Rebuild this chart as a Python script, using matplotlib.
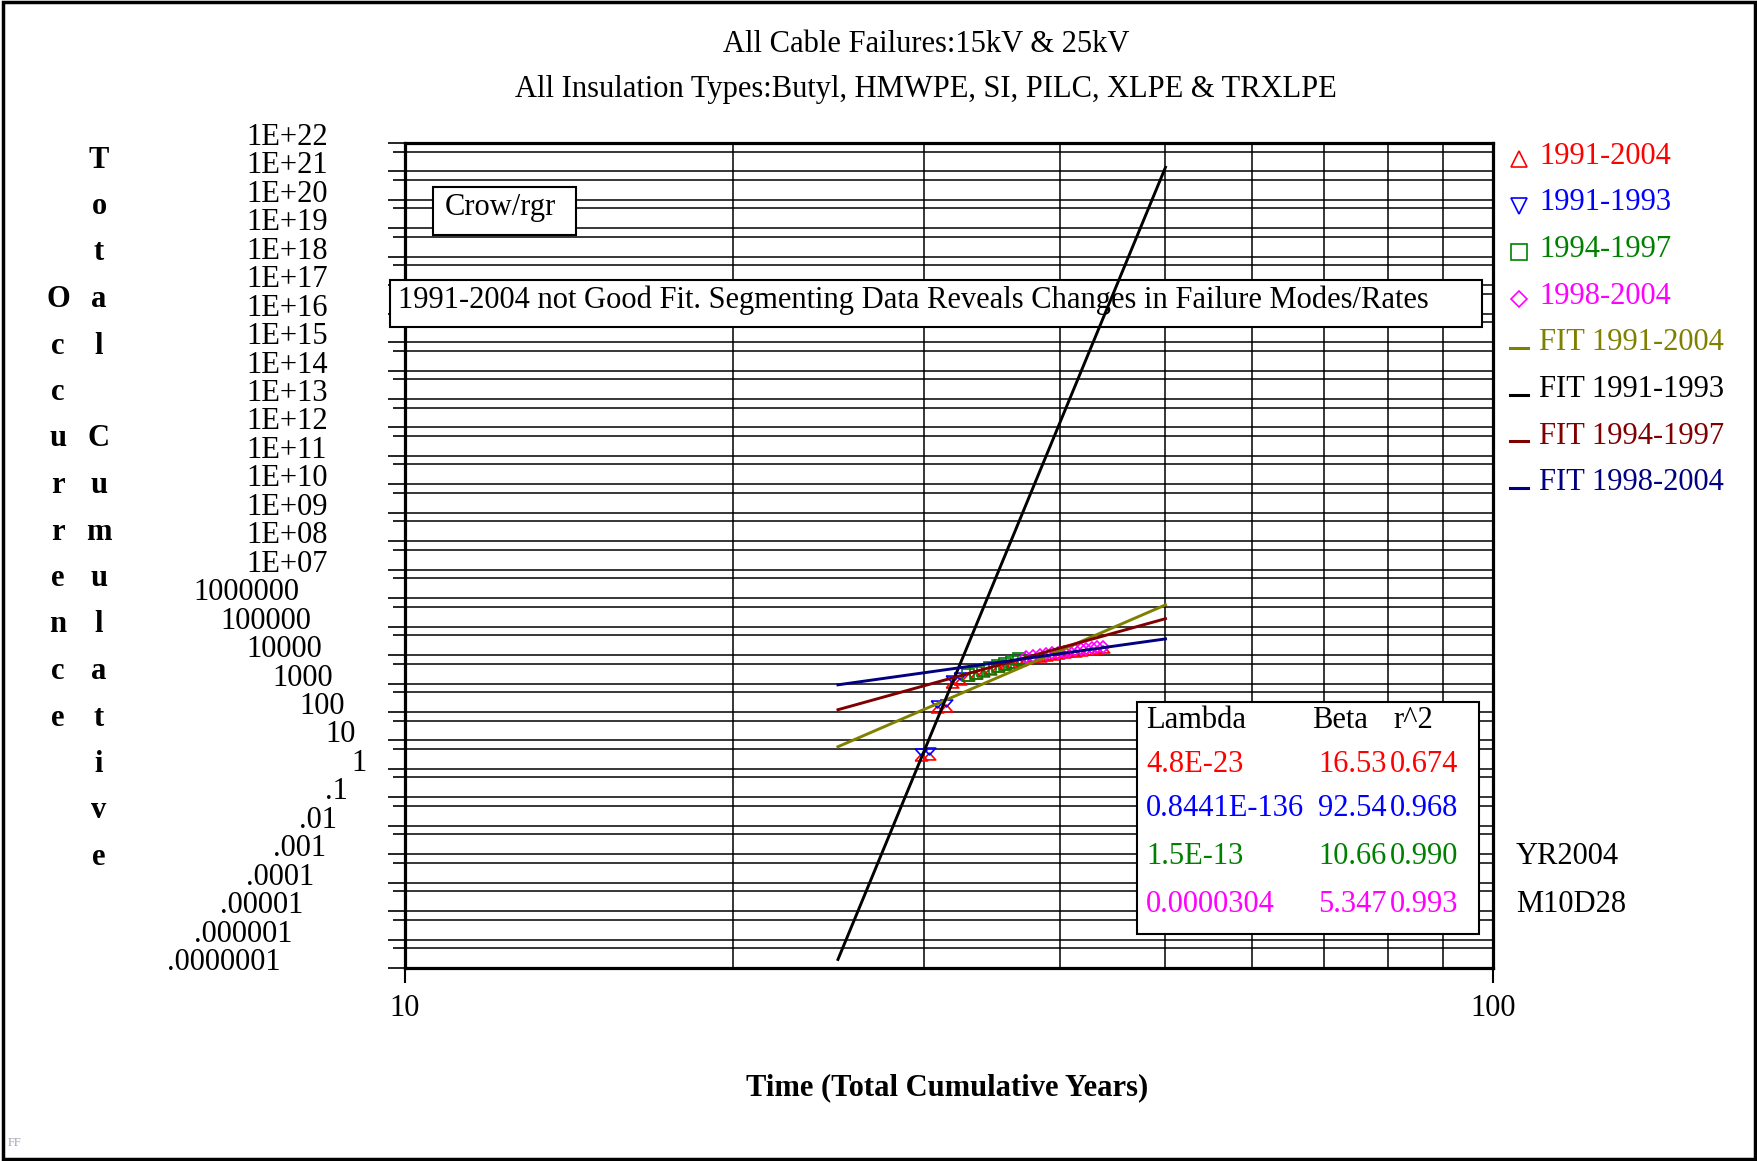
"""Crow-AMSAA plot of cumulative cable failures, redrawn from the chart image."""
import matplotlib

matplotlib.use("Agg")
import matplotlib.pyplot as plt
from matplotlib.lines import Line2D
from matplotlib.patches import Rectangle
from matplotlib.ticker import FixedLocator, NullFormatter
from matplotlib.transforms import blended_transform_factory, offset_copy

W, H = 1758, 1161

# cumulative years vs cumulative failures
T_9193 = [29.8, 30.3, 30.8, 31.4, 31.8, 32.4]
N_9193 = [3.3, 3.6, 160, 165, 1200, 1450]
T_9497 = [32.9, 33.5, 34.0, 34.5, 35.1, 35.6, 36.1, 36.7]
N_9497 = [2000, 2400, 2900, 3500, 4200, 5000, 5900, 7000]
T_9804 = [37.2, 37.8, 38.3, 38.8, 39.3, 39.8, 40.3, 40.8, 41.3, 41.8, 42.3, 42.8, 43.3, 43.8]
N_9804 = [8500, 9300, 10000, 10800, 11500, 12300, 13100, 14000, 14900, 15800, 16700,
          17700, 18700, 19800]
T_ALL = T_9193 + T_9497 + T_9804
N_ALL = N_9193 + N_9497 + N_9804

# fitted lines, end points at t=25 and t=50
FIT_T = [25, 50]
FIT_9104 = [6.0, 5.8e5]
FIT_9193 = [2e-7, 1.4e21]
FIT_9497 = [120, 1.9e5]
FIT_9804 = [900, 3.7e4]

STAT_LAMBDA = ["4.8E-23", "0.8441E-136", "1.5E-13", "0.0000304"]
STAT_BETA = ["16.53", "92.54", "10.66", "5.347"]
STAT_R2 = ["0.674", "0.968", "0.990", "0.993"]
STAT_COLORS = ["#ff0000", "#0000ff", "#008000", "#ff00ff"]

DECADES = list(range(22, -8, -1))
Y_TICK_LABELS = ["1E+22", "1E+21", "1E+20", "1E+19", "1E+18", "1E+17", "1E+16", "1E+15",
                 "1E+14", "1E+13", "1E+12", "1E+11", "1E+10", "1E+09", "1E+08", "1E+07",
                 "1000000", "100000", "10000", "1000", "100", "10", "1",
                 ".1", ".01", ".001", ".0001", ".00001", ".000001", ".0000001"]

# (kind, marker, color, label)
LEGEND = [("m", "^", "#ff0000", "1991-2004"),
          ("m", "v", "#0000ff", "1991-1993"),
          ("m", "s", "#008000", "1994-1997"),
          ("m", "D", "#ff00ff", "1998-2004"),
          ("l", None, "#808000", "FIT 1991-2004"),
          ("l", None, "#000000", "FIT 1991-1993"),
          ("l", None, "#800000", "FIT 1994-1997"),
          ("l", None, "#000080", "FIT 1998-2004")]

FS = 22
TRI_UP = [(-1, -0.55), (1, -0.55), (0, 0.55), (-1, -0.55)]
TRI_DN = [(-1, 0.55), (1, 0.55), (0, -0.55), (-1, 0.55)]


def fx(px):
    return px / W


def fy(py):
    return 1 - py / H


def main():
    plt.rcParams["font.family"] = ["Liberation Serif", "DejaVu Serif"]
    fig = plt.figure(figsize=(W / 100, H / 100), dpi=100)
    fig.patch.set_facecolor("white")
    ax = fig.add_axes([fx(405), fy(968), 1088 / W, 825 / H])

    ax.set_xscale("log")
    ax.set_yscale("log")
    ax.set_xlim(10, 100)
    ax.set_ylim(1e-7, 1e22)
    ax.xaxis.set_major_locator(FixedLocator([10, 100]))
    ax.xaxis.set_minor_locator(FixedLocator([20, 30, 40, 50, 60, 70, 80, 90]))
    ax.xaxis.set_minor_formatter(NullFormatter())
    ax.set_xticklabels(["10", "100"])
    ax.yaxis.set_major_locator(FixedLocator([10.0 ** k for k in DECADES]))
    ax.yaxis.set_minor_locator(FixedLocator([5 * 10.0 ** k for k in DECADES]))
    ax.yaxis.set_minor_formatter(NullFormatter())
    ax.tick_params(axis="y", which="major", length=12.5, width=1.2, direction="out", labelleft=False)
    ax.tick_params(axis="y", which="minor", length=8.5, width=1.2, direction="out")
    ax.tick_params(axis="x", which="major", length=11, width=1.5, direction="out", pad=8,
                   labelsize=FS)
    ax.tick_params(axis="x", which="minor", length=0)
    ax.set_axisbelow(True)
    ax.grid(True, which="both", color="black", lw=1.1)
    for s in ax.spines.values():
        s.set_linewidth(2.3)

    # odd staircase of y labels, left-aligned by label length like the original
    trans = blended_transform_factory(fig.transFigure, ax.transData)
    lab_shift = offset_copy(trans, fig=fig, y=-2, units="dots")
    for k, lab in zip(DECADES, Y_TICK_LABELS):
        ax.text(fx(378 - 26.35 * len(lab)), 10.0 ** k, lab, transform=lab_shift, ha="left",
                va="baseline", fontsize=FS, clip_on=False)

    # fit lines
    ax.plot(FIT_T, FIT_9104, color="#808000", lw=2.1, zorder=3)
    ax.plot(FIT_T, FIT_9193, color="black", lw=2.1, zorder=3)
    ax.plot(FIT_T, FIT_9497, color="#800000", lw=2.1, zorder=3)
    ax.plot(FIT_T, FIT_9804, color="#000080", lw=2.1, zorder=3)

    # data points
    up = offset_copy(ax.transData, fig=fig, y=-2.5, units="dots")
    dn = offset_copy(ax.transData, fig=fig, y=2.5, units="dots")
    ax.plot(T_ALL, N_ALL, ls="none", marker=TRI_UP, ms=9, mfc="none", mec="#ff0000",
            mew=1.2, transform=up, zorder=2.8)
    ax.plot(T_9193, N_9193, ls="none", marker=TRI_DN, ms=9, mfc="none", mec="#0000ff",
            mew=1.2, transform=dn, zorder=2.8)
    ax.plot(T_9497, N_9497, ls="none", marker="s", ms=8.5, mfc="none", mec="#008000",
            mew=1.2, zorder=2.8)
    ax.plot(T_9804, N_9804, ls="none", marker="D", ms=6, mfc="none", mec="#ff00ff",
            mew=1.2, zorder=2.8)

    # annotation boxes (cover the grid, sit under the fit lines)
    for (x0, y0, x1, y1) in [(433, 187, 576, 235), (390, 280, 1482, 327), (1137, 702, 1479, 934)]:
        ax.add_patch(Rectangle((fx(x0), fy(y1)), fx(x1) - fx(x0), fy(y0) - fy(y1),
                               transform=fig.transFigure, facecolor="white", edgecolor="black",
                               lw=1.5, zorder=2.6, clip_on=False))
    fig.text(fx(445), fy(207), "Crow/rgr", fontsize=FS, va="center", zorder=5)
    fig.text(fx(398), fy(300), "1991-2004 not Good Fit. Segmenting Data Reveals Changes in "
             "Failure Modes/Rates", fontsize=FS, va="center", zorder=5)

    # fit statistics
    fig.text(fx(1146), fy(720), "Lambda", fontsize=FS, va="center", zorder=5)
    fig.text(fx(1312), fy(720), "Beta", fontsize=FS, va="center", zorder=5)
    fig.text(fx(1393), fy(720), "r^2", fontsize=FS, va="center", zorder=5)
    for yy, lam, beta, r2, c in zip([764, 809, 857, 904], STAT_LAMBDA, STAT_BETA, STAT_R2,
                                    STAT_COLORS):
        fig.text(fx(1146), fy(yy), lam, fontsize=FS, va="center", color=c, zorder=5)
        fig.text(fx(1387), fy(yy), beta, fontsize=FS, va="center", ha="right", color=c, zorder=5)
        fig.text(fx(1390), fy(yy), r2, fontsize=FS, va="center", color=c, zorder=5)
    fig.text(fx(1516), fy(857), "YR2004", fontsize=FS, va="center")
    fig.text(fx(1516), fy(904), "M10D28", fontsize=FS, va="center")

    # legend on the right
    for i, (kind, mk, c, lab) in enumerate(LEGEND):
        yy = 156 + 46.7 * i
        if kind == "m":
            fig.add_artist(Line2D([fx(1519)], [fy(yy + 3)], marker=mk, ms=11 if mk != "D" else 8,
                                  mfc="none", mec=c, mew=1.2, ls="none",
                                  transform=fig.transFigure))
        else:
            fig.add_artist(Line2D([fx(1510), fx(1528)], [fy(yy + 5)] * 2, color=c, lw=2.2,
                                  transform=fig.transFigure))
        fig.text(fx(1539), fy(yy), lab, fontsize=FS, va="center", color=c)

    # titles and axis labels
    fig.text(fx(926), fy(45), "All Cable Failures:15kV & 25kV", fontsize=FS, ha="center",
             va="center")
    fig.text(fx(926), fy(89), "All Insulation Types:Butyl, HMWPE, SI, PILC, XLPE & TRXLPE",
             fontsize=FS, ha="center", va="center")
    fig.text(fx(947), fy(1088), "Time (Total Cumulative Years)", fontsize=FS, ha="center",
             va="center", fontweight="bold")
    for i, ch in enumerate("Total Cumulative"):
        fig.text(fx(99), fy(160 + 46.5 * i), ch, fontsize=FS, ha="center", va="center",
                 fontweight="bold")
    for i, ch in enumerate("Occurrence"):
        fig.text(fx(58), fy(160 + 46.5 * (i + 3)), ch, fontsize=FS, ha="center", va="center",
                 fontweight="bold")

    fig.text(fx(8), fy(1143), "FF", fontsize=9, color="#9ca3af", va="center")
    fig.add_artist(Rectangle((0.0015, 0.0015), 0.997, 0.997, transform=fig.transFigure,
                             fill=False, edgecolor="black", lw=2.5))

    fig.savefig("out.png", dpi=100)


if __name__ == "__main__":
    main()
